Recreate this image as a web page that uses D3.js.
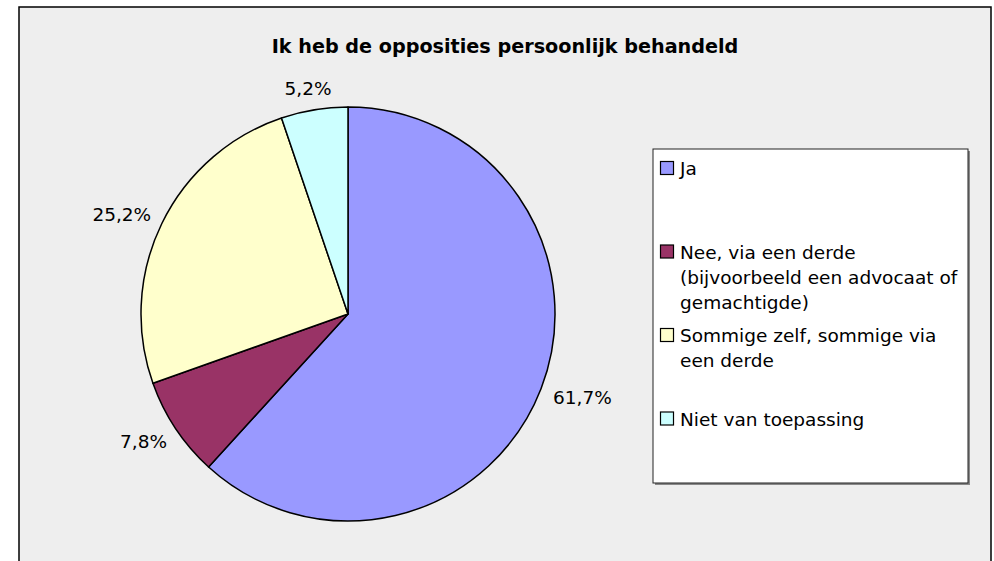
<!DOCTYPE html>
<html>
<head>
<meta charset="utf-8">
<script src="https://cdn.jsdelivr.net/npm/d3@7"></script>
<style>
  body { margin: 0; background: #fff; }
  text { font-family: "DejaVu Sans", Verdana, sans-serif; fill: #000; }
</style>
</head>
<body>
<svg id="chart"></svg>
<script>
// data
var categories = ["Ja", "Nee, via een derde (bijvoorbeeld een advocaat of gemachtigde)", "Sommige zelf, sommige via een derde", "Niet van toepassing"];
var values = [61.7, 7.8, 25.2, 5.2];
var labels = ["61,7%", "7,8%", "25,2%", "5,2%"];
var legendLines = [["Ja"], ["Nee, via een derde", "(bijvoorbeeld een advocaat of", "gemachtigde)"], ["Sommige zelf, sommige via", "een derde"], ["Niet van toepassing"]];
var colors = ["#9999ff", "#993366", "#ffffcc", "#ccffff"];
var title = "Ik heb de opposities persoonlijk behandeld";

var W = 994, H = 561;
var svg = d3.select("#chart").attr("width", W).attr("height", H);

// chart area (bottom edge runs off the picture)
svg.append("rect")
    .attr("x", 19).attr("y", 7)
    .attr("width", 972).attr("height", 600)
    .attr("fill", "#eeeeee")
    .attr("stroke", "#000").attr("stroke-width", 1.5);

svg.append("text")
    .attr("x", 505).attr("y", 53)
    .attr("text-anchor", "middle")
    .style("font-weight", "bold")
    .style("font-size", "19.2px")
    .text(title);

var cx = 348, cy = 314, r = 207;
var pie = d3.pie().sort(null).value(function(d) { return d; });
var arc = d3.arc().innerRadius(0).outerRadius(r);
var arcs = pie(values);

var g = svg.append("g").attr("transform", "translate(" + cx + "," + cy + ")");

g.selectAll("path.slice")
    .data(arcs)
  .enter().append("path")
    .attr("class", "slice")
    .attr("d", arc)
    .attr("fill", function(d, i) { return colors[i]; })
    .attr("stroke", "#000")
    .attr("stroke-width", 1.5)
    .attr("stroke-linejoin", "round");

// labels sit just outside the rim, pushed out by half their box
var gap = 15;
g.selectAll("text.lbl")
    .data(arcs)
  .enter().append("text")
    .attr("class", "lbl")
    .style("font-size", "18.5px")
    .attr("text-anchor", "middle")
    .text(function(d, i) { return labels[i]; })
    .each(function(d) {
        var a = (d.startAngle + d.endAngle) / 2;
        var ux = Math.sin(a), uy = -Math.cos(a);
        var w = this.getComputedTextLength(), h = 15;
        var x = (r + gap) * ux + ux * w / 2;
        var y = (r + gap) * uy + uy * h / 2;
        d3.select(this).attr("x", x).attr("y", y + 7);
    });

// legend
var lx = 653, ly = 149, lw = 315, lh = 334;
svg.append("rect")
    .attr("x", lx + 2).attr("y", ly + 2)
    .attr("width", lw).attr("height", lh)
    .attr("fill", "#888");
svg.append("rect")
    .attr("x", lx).attr("y", ly)
    .attr("width", lw).attr("height", lh)
    .attr("fill", "#fff")
    .attr("stroke", "#222").attr("stroke-width", 1);

var slot = d3.scaleBand().domain(d3.range(categories.length)).range([ly, ly + lh]);

var items = svg.selectAll("g.item")
    .data(categories)
  .enter().append("g")
    .attr("class", "item")
    .attr("transform", function(d, i) { return "translate(" + lx + "," + (slot(i) + 26) + ")"; });

items.append("rect")
    .attr("x", 7.5).attr("y", -13.5)
    .attr("width", 13).attr("height", 13)
    .attr("fill", function(d, i) { return colors[i]; })
    .attr("stroke", "#000").attr("stroke-width", 1.2);

items.each(function(d, i) {
    var t = d3.select(this).append("text")
        .attr("x", 27).attr("y", 0)
        .style("font-size", "18.5px");
    legendLines[i].forEach(function(line, k) {
        t.append("tspan").attr("x", 27).attr("y", k * 25).text(line);
    });
});
</script>
</body>
</html>
